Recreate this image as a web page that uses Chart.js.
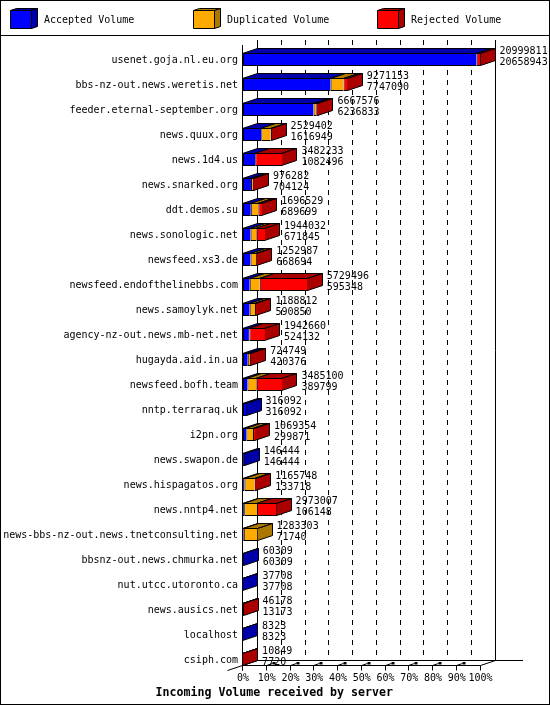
<!DOCTYPE html>
<html><head><meta charset="utf-8">
<style>html,body{margin:0;padding:0;background:#fff}canvas{display:block}</style>
<script src="https://cdn.jsdelivr.net/npm/chart.js@4"></script>
</head><body>
<canvas id="c" width="550" height="705"></canvas>
<script>
const servers = ["usenet.goja.nl.eu.org","bbs-nz-out.news.weretis.net","feeder.eternal-september.org","news.quux.org","news.1d4.us","news.snarked.org","ddt.demos.su","news.sonologic.net","newsfeed.xs3.de","newsfeed.endofthelinebbs.com","news.samoylyk.net","agency-nz-out.news.mb-net.net","hugayda.aid.in.ua","newsfeed.bofh.team","nntp.terraraq.uk","i2pn.org","news.swapon.de","news.hispagatos.org","news.nntp4.net","news-bbs-nz-out.news.tnetconsulting.net","bbsnz-out.news.chmurka.net","nut.utcc.utoronto.ca","news.ausics.net","localhost","csiph.com"];
const totalLabels = [20999811,9271153,6667576,2529402,3482233,976282,1696529,1944032,1252987,5729496,1188812,1942660,724749,3485100,316092,1069354,146444,1165748,2973007,1283303,60309,37708,46178,8323,10849];
const accepted = [20658943,7747090,6236833,1616949,1082496,704124,689699,671845,668694,595348,590850,524132,420376,389799,316092,299871,146444,133718,106148,71740,60309,37708,13173,8323,7720];
const duplicated = [0,1140000,240000,820000,0,180000,665000,506000,524293,885000,499000,44000,200000,788000,0,586000,0,885000,1134000,1211563,0,0,0,0,0];
const rejected = [340868,384063,190743,92453,2399737,92158,341830,766187,60000,4249148,98962,1374528,104373,2307301,0,183483,0,147030,1732859,0,0,0,33005,0,3129];
const axisMax = 20999811;
const percentTicks = [0,10,20,30,40,50,60,70,80,90,100];
const seriesNames = ["Accepted Volume","Duplicated Volume","Rejected Volume"];
const frontColors = ["#0000ff","#ffaa00","#ff0000"];
const darkColors = ["#0000aa","#aa7700","#aa0000"];
const titleText = "Incoming Volume received by server";
const FONT = "'DejaVu Sans Mono'";
const DX = 15, DY = 5;
const legendBoxX = [10,193,377];

const depthPlugin = {
  id: 'depth',
  afterLayout(chart){
    chart.titleBlock.left += 34; chart.titleBlock.right += 34;
  },
  beforeDraw(chart){
    const g = chart.ctx; g.save();
    g.fillStyle = '#fff'; g.fillRect(0,0,chart.width,chart.height);
    g.strokeStyle='#000'; g.lineWidth=1;
    g.strokeRect(0.5,0.5,549,704);
    g.beginPath(); g.moveTo(0,35.5); g.lineTo(550,35.5); g.stroke();
    // legend
    const face=(pts,col)=>{g.beginPath();pts.forEach((p,i)=>i?g.lineTo(p[0],p[1]):g.moveTo(p[0],p[1]));g.closePath();g.fillStyle=col;g.fill();g.stroke();};
    seriesNames.forEach((name,i)=>{
      const L=legendBoxX[i]+0.5,T=10.5,R=L+21,B=28.5,dx=6,dy=2;
      face([[L,T],[L+dx,T-dy],[R+dx,T-dy],[R,T]],darkColors[i]);
      face([[R,T],[R+dx,T-dy],[R+dx,B-dy],[R,B]],darkColors[i]);
      face([[L,T],[R,T],[R,B],[L,B]],frontColors[i]);
      g.fillStyle='#000'; g.font="10px "+FONT; g.textBaseline='middle'; g.textAlign='left';
      g.fillText(name,legendBoxX[i]+34,20.5);
    });
    g.restore();
  },
  beforeDatasetsDraw(chart){
    const g = chart.ctx, xs = chart.scales.x, metas = [0,1,2].map(i=>chart.getDatasetMeta(i));
    const lastY = metas[0].data[metas[0].data.length-1].y;
    const floorF = Math.floor(lastY + 6) + 0.5, floorB = floorF - DY;
    const wallTop = 40;
    g.save(); g.strokeStyle='#000'; g.lineWidth=1;
    const line=(a,b,c,d)=>{g.beginPath();g.moveTo(a,b);g.lineTo(c,d);g.stroke();};
    // back wall grid
    percentTicks.forEach((p,i)=>{
      const x = Math.round(xs.getPixelForValue(p/100*axisMax)) - 0.5;
      g.setLineDash(i===0||i===percentTicks.length-1 ? [] : [5,5]);
      line(x+DX, wallTop, x+DX, floorB);
    });
    g.setLineDash([]);
    const x0 = Math.round(xs.left)-0.5, x1 = Math.round(xs.right)-0.5;
    line(x0,45,x0,floorF+5);
    line(x0-DX,floorF+5,x0+DX,floorB);
    line(x0+DX,floorB,523,floorB);
    line(x0,floorF,x1,floorF);
    line(x1,floorF,x1+DX,floorB);
    percentTicks.forEach((p,i)=>{
      const x = Math.round(xs.getPixelForValue(p/100*axisMax)) - 0.5;
      line(x,floorF,x,floorF+5);
      if(i>0 && i<percentTicks.length-1){
        line(x,floorF,x+6,floorF-2);
        g.fillStyle='#000'; g.fillRect(x+6,floorF-3.5,3,2.5);
      }
    });
    // 3D faces of each bar
    const n = metas[0].data.length;
    const snap = v => Math.round(v) - 0.5;
    const face=(pts,col)=>{g.beginPath();pts.forEach((p,i)=>i?g.lineTo(p[0],p[1]):g.moveTo(p[0],p[1]));g.closePath();g.fillStyle=col;g.fill();g.stroke();};
    for(let r=0;r<n;r++){
      let last=-1;
      metas.forEach((m,s)=>{
        const el=m.data[r], v=chart.data.datasets[s].data[r];
        if(!v) return;
        last=s;
        const t=el.y-el.height/2+0.5, a=snap(el.base), b=snap(el.x);
        face([[a,t],[b,t],[b+DX,t-DY],[a+DX,t-DY]],darkColors[s]);
      });
      if(last>=0){
        const el=metas[last].data[r], t=el.y-el.height/2+0.5, b=el.y+el.height/2-0.5, x=snap(el.x);
        face([[x,t],[x+DX,t-DY],[x+DX,b-DY],[x,b]],darkColors[last]);
      }
    }
    g.restore();
  },
  afterDatasetsDraw(chart){
    const g = chart.ctx, xs = chart.scales.x, ys = chart.scales.y;
    g.save(); g.fillStyle='#000'; g.font="10px "+FONT; g.textBaseline='middle'; g.textAlign='left';
    totalLabels.forEach((t,i)=>{
      const x = xs.getPixelForValue(t)+DX+4, y = ys.getPixelForValue(i);
      g.fillText(String(t),x,y-8);
      g.fillText(String(accepted[i]),x,y+3);
    });
    g.restore();
  }
};

const values = [accepted,duplicated,rejected];
new Chart(document.getElementById('c'),{
  type:'bar',
  data:{labels:servers,datasets:values.map((d,i)=>({
    label:seriesNames[i],data:d,backgroundColor:frontColors[i],borderColor:'#000',borderWidth:{top:1,bottom:1,left:1,right:0},borderSkipped:false,barThickness:13,inflateAmount:0
  }))},
  options:{
    indexAxis:'y',responsive:false,animation:false,devicePixelRatio:1,
    layout:{padding:{top:47,right:69.5,left:0,bottom:0}},
    scales:{
      x:{stacked:true,min:0,max:axisMax,position:'bottom',
        afterBuildTicks(s){s.ticks=percentTicks.map(p=>({value:p/100*axisMax}));},
        afterFit(s){s.height=13.5;},
        grid:{display:false,drawTicks:false},border:{display:false},
        ticks:{autoSkip:false,maxRotation:0,minRotation:0,padding:0.5,color:'#000',font:{family:FONT,size:10},callback:(v,i)=>percentTicks[i]+'%'}},
      y:{stacked:true,
        afterFit(s){s.width=243;},
        grid:{display:false,drawTicks:false},border:{display:false},
        ticks:{autoSkip:false,padding:5,labelOffset:0.5,color:'#000',font:{family:FONT,size:10}}}
    },
    plugins:{
      tooltip:{enabled:false},
      legend:{display:false},
      title:{display:true,position:'bottom',text:titleText,color:'#000',font:{family:FONT,size:11.6,weight:'bold'},padding:{top:0.5,bottom:5}}
    }
  },
  plugins:[depthPlugin]
});
</script>
</body></html>
